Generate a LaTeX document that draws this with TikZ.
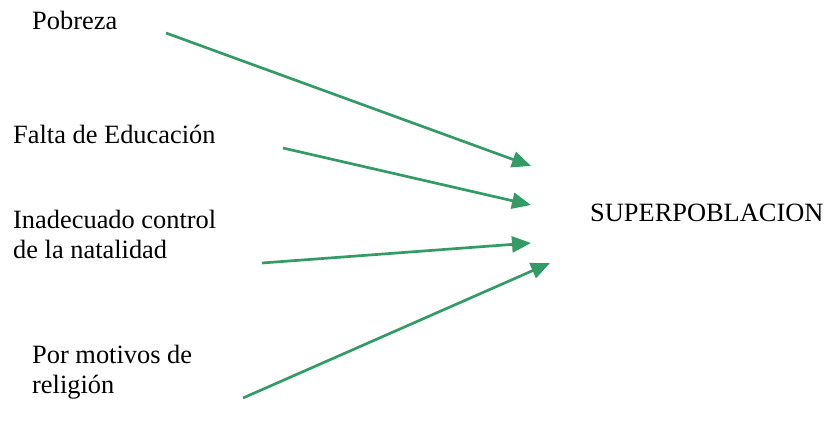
\documentclass[tikz,border=0pt]{standalone}
\usepackage{fontspec}
\setmainfont{Liberation Serif}
\usetikzlibrary{arrows.meta}
\definecolor{arrowgreen}{RGB}{51,155,102}
\begin{document}
\begin{tikzpicture}[x=1pt,y=-1pt,
  label/.style={anchor=base west,inner sep=0pt,align=left,
    font=\fontsize{26.4}{30}\selectfont},
  cause/.style={draw=arrowgreen,line width=2.7pt,
    -{Triangle[length=19pt,width=16pt,fill=arrowgreen]}}]
\useasboundingbox (0,0) rectangle (824,429);
% labels
\node[label] (pob) at (32,29) {Pobreza};
\node[label] (edu) at (13,143) {Falta de Educación};
\node[label] (nat) at (13,258) {Inadecuado control\\de la natalidad};
\node[label] (rel) at (32,393) {Por motivos de\\religión};
\node[label] (sup) at (590,221) {SUPERPOBLACION};
% arrow ends
\coordinate (s1) at (166,33);  \coordinate (t1) at (531,166);
\coordinate (s2) at (283,148); \coordinate (t2) at (531,205);
\coordinate (s3) at (262,263); \coordinate (t3) at (531,243);
\coordinate (s4) at (243,398); \coordinate (t4) at (550,263);
\draw[cause] (s1) -- (t1);
\draw[cause] (s2) -- (t2);
\draw[cause] (s3) -- (t3);
\draw[cause] (s4) -- (t4);
\end{tikzpicture}
\end{document}
